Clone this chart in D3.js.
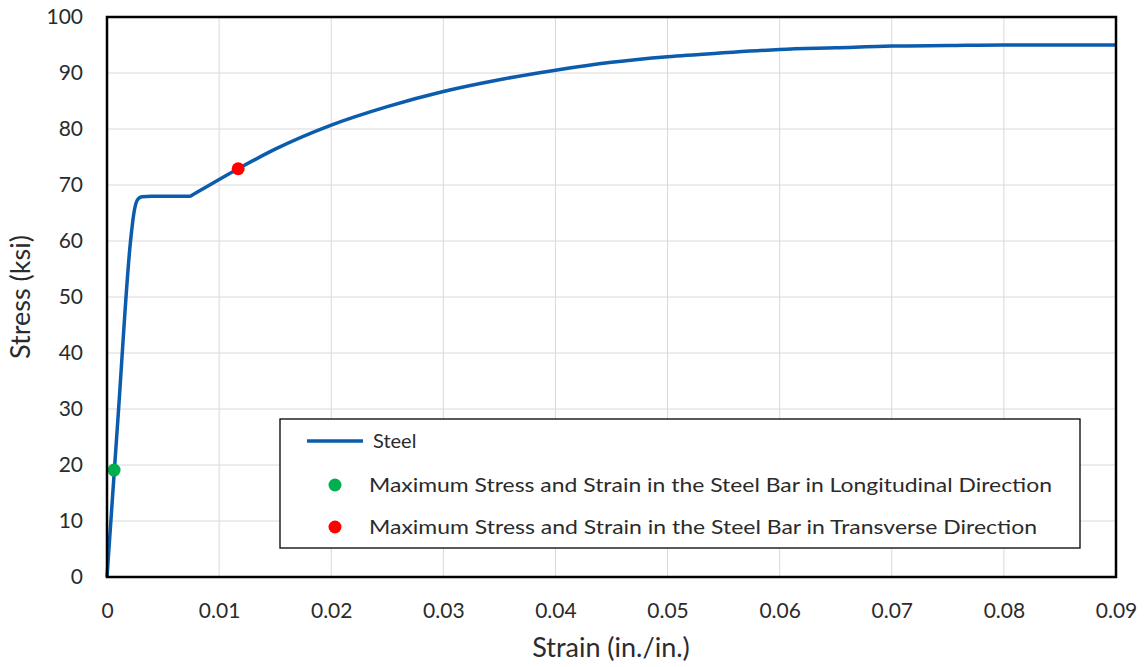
<!DOCTYPE html>
<html>
<head>
<meta charset="utf-8">
<script src="https://cdn.jsdelivr.net/npm/d3@7"></script>
<style>
  body { margin: 0; background: #fff; }
  text { font-family: Lato, "Open Sans", sans-serif; fill: #2b2b2b; }
</style>
</head>
<body>
<div id="chart"></div>
<script>
// stress-strain curve
var strain = [0, 0.0010, 0.0021, 0.0024, 0.0027, 0.0031, 0.0040, 0.0074, 0.0078, 0.0117, 0.015, 0.020, 0.025, 0.030, 0.035, 0.040, 0.045, 0.050, 0.055, 0.060, 0.065, 0.070, 0.075, 0.080, 0.090];
var stress = [0, 29, 60, 65, 67.3, 67.9, 68, 68, 68.45, 72.9, 76.4, 80.7, 84.0, 86.7, 88.8, 90.5, 91.9, 92.9, 93.6, 94.2, 94.5, 94.8, 94.9, 95.0, 95.0];
var longPt = [0.00063, 19.1];
var transPt = [0.0117, 72.9];
var xTicks = [0, 0.01, 0.02, 0.03, 0.04, 0.05, 0.06, 0.07, 0.08, 0.09];
var yTicks = [0, 10, 20, 30, 40, 50, 60, 70, 80, 90, 100];
var legendLabels = ["Steel",
  "Maximum Stress and Strain in the Steel Bar in Longitudinal Direction",
  "Maximum Stress and Strain in the Steel Bar in Transverse Direction"];

var W = 1146, H = 667;
var margin = {top: 17, right: 30, bottom: 90, left: 107};
var width = W - margin.left - margin.right,
    height = H - margin.top - margin.bottom;

var svg = d3.select("#chart").append("svg")
  .attr("width", W).attr("height", H);
var g = svg.append("g")
  .attr("transform", "translate(" + margin.left + "," + margin.top + ")");

var x = d3.scaleLinear().domain([0, 0.09]).range([0, width]);
var y = d3.scaleLinear().domain([0, 100]).range([height, 0]);

// gridlines
g.append("g").selectAll("line.gx").data(xTicks.slice(1, -1)).enter()
  .append("line")
  .attr("x1", d => x(d)).attr("x2", d => x(d))
  .attr("y1", 0).attr("y2", height)
  .attr("stroke", "#d9d9d9").attr("stroke-width", 1);
g.append("g").selectAll("line.gy").data(yTicks.slice(1, -1)).enter()
  .append("line")
  .attr("y1", d => y(d)).attr("y2", d => y(d))
  .attr("x1", 0).attr("x2", width)
  .attr("stroke", "#d9d9d9").attr("stroke-width", 1);

// axes (labels only)
var xAxis = g.append("g")
  .attr("transform", "translate(0," + height + ")")
  .call(d3.axisBottom(x).tickValues(xTicks).tickSize(0).tickPadding(26)
    .tickFormat(d => d === 0 ? "0" : d3.format(".2f")(d)));
xAxis.select(".domain").remove();
xAxis.selectAll("text").style("font-size", "21px").attr("fill", "#2b2b2b");

var yAxis = g.append("g")
  .call(d3.axisLeft(y).tickValues(yTicks).tickSize(0).tickPadding(24));
yAxis.select(".domain").remove();
yAxis.selectAll("text").style("font-size", "21px").attr("fill", "#2b2b2b");

// curve
var pts = strain.map((s, i) => [s, stress[i]]);
var line = d3.line().x(d => x(d[0])).y(d => y(d[1])).curve(d3.curveMonotoneX);
g.append("path").datum(pts)
  .attr("d", line)
  .attr("fill", "none")
  .attr("stroke", "#0b5cad")
  .attr("stroke-width", 3.5);

g.append("circle").attr("cx", x(longPt[0])).attr("cy", y(longPt[1]))
  .attr("r", 6.5).attr("fill", "#00b050");
g.append("circle").attr("cx", x(transPt[0])).attr("cy", y(transPt[1]))
  .attr("r", 6.5).attr("fill", "#ff0000");

// frame
g.append("rect").attr("x", 0).attr("y", 0)
  .attr("width", width).attr("height", height)
  .attr("fill", "none").attr("stroke", "#000").attr("stroke-width", 2.5);

// legend
var lg = svg.append("g").attr("transform", "translate(280,419)");
lg.append("rect").attr("width", 800).attr("height", 129)
  .attr("fill", "#fff").attr("stroke", "#000").attr("stroke-width", 1.3);
lg.append("line").attr("x1", 27).attr("x2", 83).attr("y1", 22).attr("y2", 22)
  .attr("stroke", "#0b5cad").attr("stroke-width", 3.5);
lg.append("circle").attr("cx", 55).attr("cy", 66).attr("r", 6.5).attr("fill", "#00b050");
lg.append("circle").attr("cx", 55).attr("cy", 108).attr("r", 6.5).attr("fill", "#ff0000");
var lx = [93, 89, 89], ly = [22, 66, 108], lw = [null, 683, 668];
legendLabels.forEach(function(t, i) {
  var tx = lg.append("text").attr("x", lx[i]).attr("y", ly[i])
    .attr("dy", "0.35em").style("font-size", "20px").text(t);
  if (lw[i]) tx.attr("textLength", lw[i]).attr("lengthAdjust", "spacingAndGlyphs");
});

// axis titles
svg.append("text").attr("x", 611).attr("y", 657)
  .attr("text-anchor", "middle").style("font-size", "27px").text("Strain (in./in.)");
svg.append("text").attr("transform", "translate(21," + (margin.top + height / 2) + ") rotate(-90)")
  .attr("text-anchor", "middle").attr("dy", "0.35em")
  .style("font-size", "27px").text("Stress (ksi)");
</script>
</body>
</html>
